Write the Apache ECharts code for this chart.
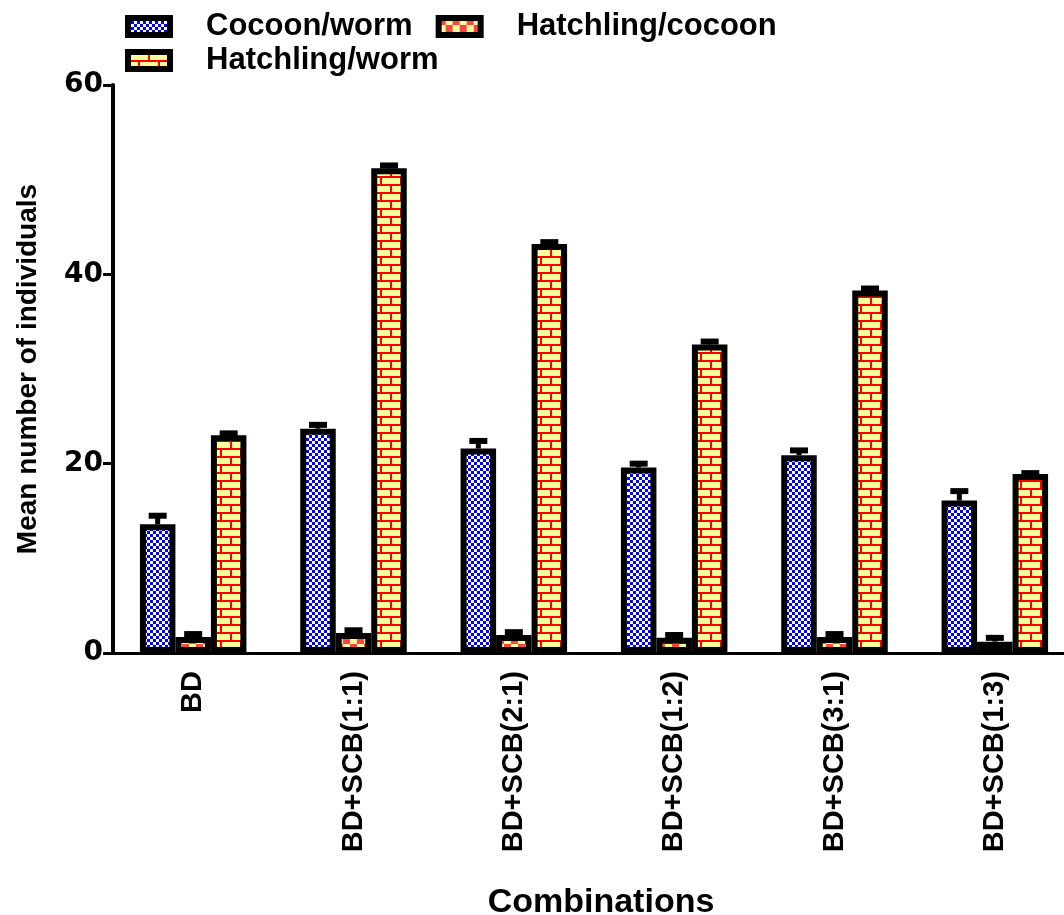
<!DOCTYPE html>
<html>
<head>
<meta charset="utf-8">
<script src="https://cdn.jsdelivr.net/npm/echarts@6/dist/echarts.min.js"></script>
<style>
html,body{margin:0;padding:0;background:#fff;overflow:hidden;}
#chart{width:1064px;height:915px;}
</style>
</head>
<body>
<div id="chart"></div>
<script>
// ---- data ----
const categories = ['BD', 'BD+SCB(1:1)', 'BD+SCB(2:1)', 'BD+SCB(1:2)', 'BD+SCB(3:1)', 'BD+SCB(1:3)'];
const seriesNames = ['Cocoon/worm', 'Hatchling/cocoon', 'Hatchling/worm'];
const cocoonWorm = [13.6, 23.7, 21.6, 19.6, 20.9, 16.1];
const cocoonWormErr = [0.9, 0.4, 0.8, 0.4, 0.5, 1.0];
const hatchCocoon = [1.7, 2.1, 1.9, 1.6, 1.7, 1.2];
const hatchCocoonErr = [0.3, 0.3, 0.3, 0.3, 0.3, 0.4];
const hatchWorm = [23.0, 51.2, 43.2, 32.6, 38.3, 18.9];
const hatchWormErr = [0.2, 0.3, 0.2, 0.3, 0.2, 0.1];
const yTicks = [0, 20, 40, 60];

// ---- patterns ----
function checker(size, c1, c2) {
  const cv = document.createElement('canvas');
  cv.width = size * 2; cv.height = size * 2;
  const g = cv.getContext('2d');
  g.fillStyle = c1; g.fillRect(0, 0, size * 2, size * 2);
  g.fillStyle = c2; g.fillRect(0, 0, size, size); g.fillRect(size, size, size, size);
  return { image: cv, repeat: 'repeat' };
}
function brick() {
  const cv = document.createElement('canvas');
  cv.width = 20; cv.height = 16;
  const g = cv.getContext('2d');
  g.fillStyle = '#ffff99'; g.fillRect(0, 0, 20, 16);
  g.fillStyle = '#ff0000';
  g.fillRect(0, 0, 20, 2); g.fillRect(0, 8, 20, 2);
  g.fillRect(0, 2, 2, 6); g.fillRect(10, 10, 2, 6);
  return { image: cv, repeat: 'repeat' };
}
const patterns = [checker(3, '#ffffff', '#0000ff'), checker(7, '#ffff99', '#ff4444'), brick()];
const values = [cocoonWorm, hatchCocoon, hatchWorm];
const errs = [cocoonWormErr, hatchCocoonErr, hatchWormErr];

const BAR_W = 35.5;
const font = 'Liberation Sans, Arial, sans-serif';

const chart = echarts.init(document.getElementById('chart'), null, { renderer: 'canvas' });

const series = [];
values.forEach((vals, i) => {
  series.push({
    name: seriesNames[i],
    type: 'bar',
    data: vals,
    barWidth: BAR_W,
    barGap: '0%',
    itemStyle: { color: patterns[i], borderColor: '#000', borderWidth: 6 },
    z: 2
  });
});
values.forEach((vals, i) => {
  series.push({
    type: 'custom',
    name: 'err' + i,
    data: vals.map((v, k) => [k, v, errs[i][k]]),
    z: 3,
    silent: true,
    renderItem: function (params, api) {
      const idx = api.value(0), v = api.value(1), e = api.value(2);
      const base = api.coord([idx, v]);
      const top = api.coord([idx, v + e]);
      const x = base[0] + (i - 1) * BAR_W;
      return {
        type: 'group',
        children: [
          { type: 'line', shape: { x1: x, y1: base[1], x2: x, y2: top[1] }, style: { stroke: '#000', lineWidth: 5 } },
          { type: 'line', shape: { x1: x - 9, y1: top[1], x2: x + 9, y2: top[1] }, style: { stroke: '#000', lineWidth: 6 } }
        ]
      };
    }
  });
});

chart.setOption({
  animation: false,
  backgroundColor: '#fff',
  grid: { left: 113, top: 85, bottom: 262, width: 962, containLabel: false, outerBoundsMode: 'none' },
  legend: {
    data: seriesNames,
    left: 125, top: 11, width: 720, padding: 0,
    itemWidth: 42, itemHeight: 17, itemGap: 3,
    icon: 'rect',
    itemStyle: { borderColor: '#000', borderWidth: 6 },
    textStyle: { fontFamily: font, fontWeight: 'bold', fontSize: 31, color: '#000', lineHeight: 30, padding: [0, 20, 0, 31] }
  },
  xAxis: {
    type: 'category',
    data: categories,
    axisLine: { lineStyle: { color: '#000', width: 3 } },
    axisTick: { alignWithLabel: true, length: 12, lineStyle: { color: '#000', width: 3 } },
    axisLabel: { rotate: 90, margin: 18, fontFamily: font, fontWeight: 'bold', fontSize: 29, color: '#000' },
    name: 'Combinations',
    nameLocation: 'middle',
    nameGap: 233,
    nameTextStyle: { fontFamily: font, fontWeight: 'bold', fontSize: 34, color: '#000', padding: [0, 0, 0, 14] }
  },
  yAxis: {
    type: 'value',
    min: yTicks[0], max: yTicks[yTicks.length - 1], interval: 20,
    splitLine: { show: false },
    axisLine: { show: true, lineStyle: { color: '#000', width: 4 } },
    axisTick: { show: true, length: 10, lineStyle: { color: '#000', width: 3 } },
    axisLabel: { margin: 10, fontFamily: 'DejaVu Sans', fontWeight: 'bold', fontSize: 28, color: '#000' },
    name: 'Mean number of individuals',
    nameLocation: 'middle',
    nameGap: 71,
    nameTextStyle: { fontFamily: font, fontWeight: 'bold', fontSize: 28, color: '#000' }
  },
  series: series
});
</script>
</body>
</html>
